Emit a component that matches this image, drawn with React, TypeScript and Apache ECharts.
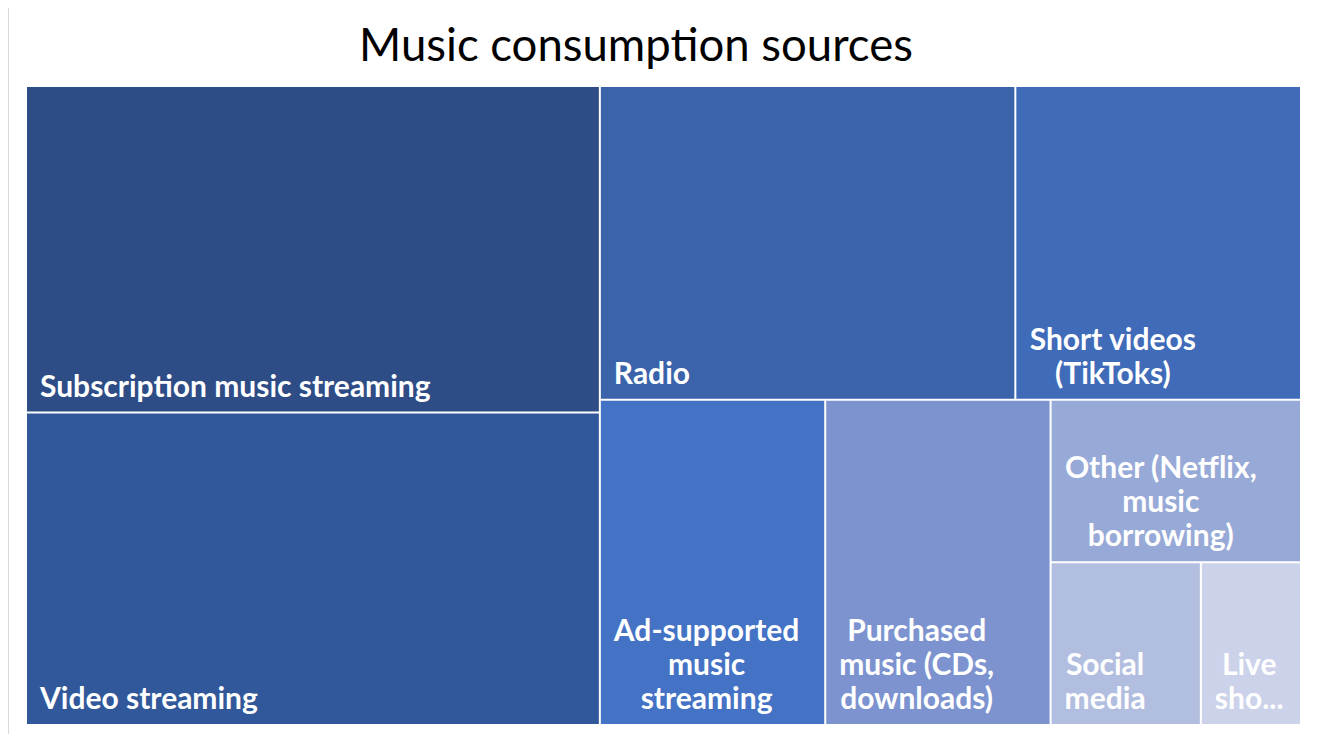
import React, { useEffect, useRef } from 'react';
import * as echarts from 'echarts';

const TITLE = 'Music consumption sources';
const categories = [
  'Subscription music streaming',
  'Video streaming',
  'Radio',
  'Short videos (TikToks)',
  'Ad-supported music streaming',
  'Purchased music (CDs, downloads)',
  'Other (Netflix, music borrowing)',
  'Social media',
  'Live shows',
];
const values = [23, 22, 16, 11, 9, 9, 5, 3, 2];
const labelTexts = [
  'Subscription music streaming',
  'Video streaming',
  'Radio',
  'Short videos\n(TikToks)',
  'Ad-supported\nmusic\nstreaming',
  'Purchased\nmusic (CDs,\ndownloads)',
  'Other (Netflix,\nmusic\nborrowing)',
  'Social\nmedia',
  'Live\nsho...',
];
const colors = ['#2E4C86', '#31589A', '#3A63AA', '#3F6BB8', '#4472C4', '#7C93CF', '#97A9D6', '#B2BEDF', '#CCD2EA'];
// blocks of the arrangement: left column, top-right, bottom-right
const blocks = [[0, 1], [2, 3], [4, 5, 6, 7, 8]];

const CHART_W = 1308;
const CHART_H = 736;
const PLOT = { left: 18, top: 81, width: 1273, height: 637 };
const GAP = 2;
const FONT = 'Lato';
const LABEL_SIZE = 30;
const LABEL_LH = 34;
const TITLE_SIZE = 45.5;
const TITLE_CX = 627;

function measure(text: string, font: string) {
  const ctx = document.createElement('canvas').getContext('2d')!;
  ctx.font = font;
  return ctx.measureText(text).width;
}

export default function App() {
  const ref = useRef<HTMLDivElement>(null);
  useEffect(() => {
    document.documentElement.style.overflow = 'hidden';
    document.body.style.overflow = 'hidden';
    const chart = echarts.init(ref.current!, null, { renderer: 'svg' });
    const sum = (idx: number[]) => idx.reduce((s, i) => s + values[i], 0);
    const total = sum(values.map((_, i) => i));
    const leftW = (PLOT.width * sum(blocks[0])) / total;
    const rightX = PLOT.left + leftW;
    const rightW = PLOT.width - leftW;
    const topH = (PLOT.height * sum(blocks[1])) / (sum(blocks[1]) + sum(blocks[2]));
    const boxes = [
      { left: PLOT.left, top: PLOT.top, width: leftW - GAP / 2, height: PLOT.height },
      { left: rightX + GAP / 2, top: PLOT.top, width: rightW - GAP / 2, height: topH - GAP / 2 },
      {
        left: rightX + GAP / 2,
        top: PLOT.top + topH + GAP / 2,
        width: rightW - GAP / 2,
        height: PLOT.height - topH - GAP / 2,
      },
    ];
    const labelFont = `bold ${LABEL_SIZE}px ${FONT}`;
    const blockW = (i: number) =>
      Math.max(...labelTexts[i].split('\n').map((l) => measure(l, labelFont)));
    const titleW = measure(TITLE, `normal ${TITLE_SIZE}px ${FONT}`);

    const series = blocks.map((idx, k) => ({
      type: 'treemap',
      left: boxes[k].left,
      top: boxes[k].top,
      width: boxes[k].width,
      height: boxes[k].height,
      squareRatio: 1,
      roam: false,
      nodeClick: false,
      sort: false,
      breadcrumb: { show: false },
      itemStyle: { borderWidth: 0, gapWidth: GAP, borderColor: '#ffffff' },
      upperLabel: { show: false },
      label: {
        show: true,
        color: '#ffffff',
        fontFamily: FONT,
        fontWeight: 'bold',
        fontSize: LABEL_SIZE,
        lineHeight: LABEL_LH,
        padding: 0,
        align: 'center',
        verticalAlign: 'bottom',
        overflow: 'none',
      },
      data: idx.map((i) => ({
        name: categories[i],
        value: values[i],
        itemStyle: { color: colors[i] },
        label: {
          formatter: labelTexts[i],
          position: [13 + blockW(i) / 2, '100%'],
          offset: [0, -10],
        },
      })),
    }));

    chart.setOption({
      animation: false,
      title: {
        text: TITLE,
        left: TITLE_CX - titleW / 2,
        top: 14,
        padding: 0,
        textStyle: { fontFamily: FONT, fontWeight: 'normal', fontSize: TITLE_SIZE, color: '#000000' },
      },
      series,
    } as any);
    return () => chart.dispose();
  }, []);
  return (
    <div
      style={{
        width: CHART_W,
        height: CHART_H,
        border: '1px solid #D9D9D9',
        marginTop: -3,
        background: '#ffffff',
      }}
    >
      <div ref={ref} style={{ width: CHART_W, height: CHART_H }} />
    </div>
  );
}
